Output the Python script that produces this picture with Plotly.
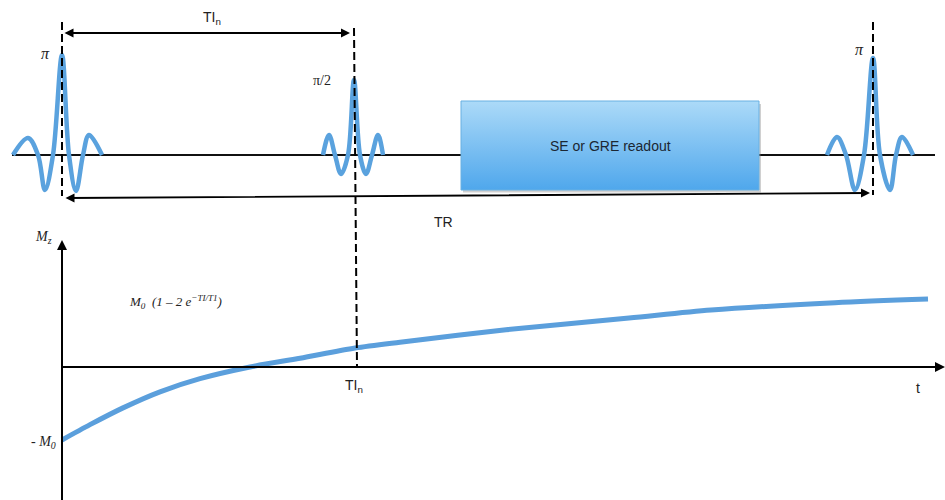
import plotly.graph_objects as go

# ---- timing (ms) ----
TI_n = 292          # inversion time
TR = 811            # repetition time
pulse_times = [0, TI_n, TR]
pulse_labels = ["π", "π/2", "π"]

# RF pulse envelopes: time offsets (ms) from pulse centre and amplitudes
pi_offsets = [-49, -34, -24, -17, -9, 0, 7, 14, 21, 27, 40]
pi_amps = [0, 0.17, 0, -0.35, 0, 1.0, 0, -0.36, 0, 0.2, 0]
half_offsets = [-31, -25, -19, -13, -6, 0, 6, 12, 18, 24, 29]
half_amps = [0, 0.2, 0, -0.19, 0, 0.75, 0, -0.19, 0, 0.2, 0]
pi2_offsets = [-46, -36, -27, -18, -9, 0, 7, 17, 23, 29, 40]
pi2_amps = [0, 0.18, 0, -0.35, 0, 0.97, 0, -0.35, 0, 0.18, 0]
pulse_offsets = [pi_offsets, half_offsets, pi2_offsets]
pulse_amps = [pi_amps, half_amps, pi2_amps]

# readout block (ms, RF-axis units)
readout_start, readout_end = 399, 697
readout_low, readout_high = -0.35, 0.54
readout_label = "SE or GRE readout"

# longitudinal magnetisation Mz / M0 during recovery
mz_t = [0, 28, 61, 98, 138, 188, 238, 293, 338, 444, 567, 649, 773, 866]
mz_val = [-1.0, -0.79, -0.56, -0.34, -0.16, 0.0, 0.12, 0.26, 0.34, 0.51, 0.67, 0.78, 0.88, 0.93]

# axis extents
X_RANGE = [-62, 883]
MZ_RANGE = [-1.822, 5.027]     # bottom panel (Mz / M0)
RF_RANGE = [-3.45, 1.55]       # top panel (RF amplitude)


def mz_to_rf(v):
    """Convert a Mz-axis value to the equivalent RF-axis value (both span the full height)."""
    frac = (v - MZ_RANGE[0]) / (MZ_RANGE[1] - MZ_RANGE[0])
    return RF_RANGE[0] + frac * (RF_RANGE[1] - RF_RANGE[0])


PULSE_BLUE = "#5aa2de"
CURVE_BLUE = "#5b9fdc"
SERIF = "Liberation Serif"
SANS = "Liberation Sans"

fig = go.Figure()

# top baseline
fig.add_trace(go.Scatter(x=[X_RANGE[0] + 12, X_RANGE[1] - 10], y=[0, 0], yaxis="y2",
                         mode="lines", line=dict(color="#111", width=2), hoverinfo="skip"))

# readout block shadow + gradient box
fig.add_trace(go.Scatter(
    x=[readout_start + 2, readout_end + 2, readout_end + 2, readout_start + 2, readout_start + 2],
    y=[readout_low - 0.025, readout_low - 0.025, readout_high - 0.03, readout_high - 0.03, readout_low - 0.025],
    yaxis="y2", mode="lines", fill="toself", fillcolor="rgba(120,120,120,0.35)",
    line=dict(width=0), hoverinfo="skip"))
fig.add_trace(go.Scatter(
    x=[readout_start, readout_end, readout_end, readout_start, readout_start],
    y=[readout_low, readout_low, readout_high, readout_high, readout_low],
    yaxis="y2", mode="lines", fill="toself",
    fillgradient=dict(type="vertical", colorscale=[[0, "#4fa7ec"], [1, "#acdaf8"]]),
    line=dict(color="#68b0e2", width=1), hoverinfo="skip"))

# RF pulses
for tc, offs, amps in zip(pulse_times, pulse_offsets, pulse_amps):
    fig.add_trace(go.Scatter(x=[tc + o for o in offs], y=amps, yaxis="y2", mode="lines",
                             line=dict(color=PULSE_BLUE, width=4.5, shape="spline", smoothing=1.0),
                             hoverinfo="skip"))

# Mz recovery curve
fig.add_trace(go.Scatter(x=mz_t, y=mz_val, mode="lines",
                         line=dict(color=CURVE_BLUE, width=5, shape="spline", smoothing=0.8),
                         hoverinfo="skip"))

shapes = []
dash = "8px,4px"
# dashed markers through the pulses
shapes.append(dict(type="line", xref="x", yref="y2", x0=0, x1=0, y0=1.33, y1=-0.41,
                   line=dict(color="black", width=2, dash=dash)))
shapes.append(dict(type="line", xref="x", yref="y2", x0=TI_n, x1=TI_n + 3, y0=1.27, y1=mz_to_rf(0),
                   line=dict(color="black", width=2, dash=dash)))
shapes.append(dict(type="line", xref="x", yref="y2", x0=TR, x1=TR, y0=1.33, y1=-0.40,
                   line=dict(color="black", width=2, dash=dash)))
# bottom axes
shapes.append(dict(type="line", xref="x", yref="y", x0=0, x1=0, y0=MZ_RANGE[0], y1=1.68,
                   line=dict(color="black", width=2)))
shapes.append(dict(type="line", xref="x", yref="y", x0=0, x1=X_RANGE[1] - 4, y0=0, y1=0,
                   line=dict(color="black", width=2)))

annotations = []
# arrowheads of the Mz and t axes
annotations.append(dict(x=0, y=1.74, ax=0, ay=1.5, xref="x", yref="y", axref="x", ayref="y",
                        showarrow=True, arrowhead=2, arrowsize=1, arrowwidth=2, arrowcolor="black", text=""))
annotations.append(dict(x=X_RANGE[1], y=0, ax=X_RANGE[1] - 20, ay=0, xref="x", yref="y", axref="x", ayref="y",
                        showarrow=True, arrowhead=2, arrowsize=1, arrowwidth=2, arrowcolor="black", text=""))
# TI_n span arrow
annotations.append(dict(x=TI_n - 4, y=1.22, ax=1, ay=1.22, xref="x", yref="y2", axref="x", ayref="y2",
                        showarrow=True, arrowhead=2, arrowside="end+start", arrowsize=1, arrowwidth=1.8,
                        arrowcolor="black", text=""))
# TR span arrow
annotations.append(dict(x=TR - 3, y=-0.38, ax=2, ay=-0.43, xref="x", yref="y2", axref="x", ayref="y2",
                        showarrow=True, arrowhead=2, arrowside="end+start", arrowsize=1, arrowwidth=1.8,
                        arrowcolor="black", text=""))

# text labels
annotations.append(dict(x=150, y=1.37, xref="x", yref="y2", text="TI<sub>n</sub>", showarrow=False,
                        font=dict(family=SANS, size=14, color="#222")))
annotations.append(dict(x=381, y=-0.67, xref="x", yref="y2", text="TR", showarrow=False,
                        font=dict(family=SANS, size=14, color="#222")))
label_pos = [(-17, 1.02), (260, 0.75), (797, 1.06)]
label_size = [16, 14, 16]
for (lx, ly), lab, sz in zip(label_pos, pulse_labels, label_size):
    annotations.append(dict(x=lx, y=ly, xref="x", yref="y2", text=lab if lab != "π" else "<i>π</i>",
                            showarrow=False, font=dict(family=SERIF, size=sz, color="#222")))
annotations.append(dict(x=(readout_start + readout_end) / 2, y=(readout_low + readout_high) / 2,
                        xref="x", yref="y2", text=readout_label, showarrow=False,
                        font=dict(family=SANS, size=14, color="#1b2733")))

annotations.append(dict(x=-19, y=1.78, xref="x", yref="y", text="<i>M<sub>z</sub></i>", showarrow=False,
                        font=dict(family=SERIF, size=14, color="#222")))
annotations.append(dict(x=113, y=0.89, xref="x", yref="y",
                        text="<i>M<sub>0</sub>  (1 – 2 e<sup>−TI/T1</sup>)</i>", showarrow=False,
                        font=dict(family=SERIF, size=13, color="#222")))
annotations.append(dict(x=-4, y=-1.03, xref="x", yref="y", xanchor="right", text="<i>- M<sub>0</sub></i>",
                        showarrow=False, font=dict(family=SERIF, size=14, color="#222")))
annotations.append(dict(x=TI_n, y=-0.26, xref="x", yref="y", text="TI<sub>n</sub>", showarrow=False,
                        font=dict(family=SANS, size=14, color="#222")))
annotations.append(dict(x=856, y=-0.29, xref="x", yref="y", text="t", showarrow=False,
                        font=dict(family=SANS, size=14, color="#222")))

axis_off = dict(visible=False, showgrid=False, zeroline=False, fixedrange=True)
fig.update_layout(
    width=945, height=500,
    margin=dict(l=0, r=0, t=0, b=0),
    paper_bgcolor="white", plot_bgcolor="white",
    showlegend=False,
    xaxis=dict(range=X_RANGE, **axis_off),
    yaxis=dict(range=MZ_RANGE, domain=[0, 1], **axis_off),
    yaxis2=dict(range=RF_RANGE, overlaying="y", **axis_off),
    shapes=shapes,
    annotations=annotations,
)

fig.write_html("out.html")
